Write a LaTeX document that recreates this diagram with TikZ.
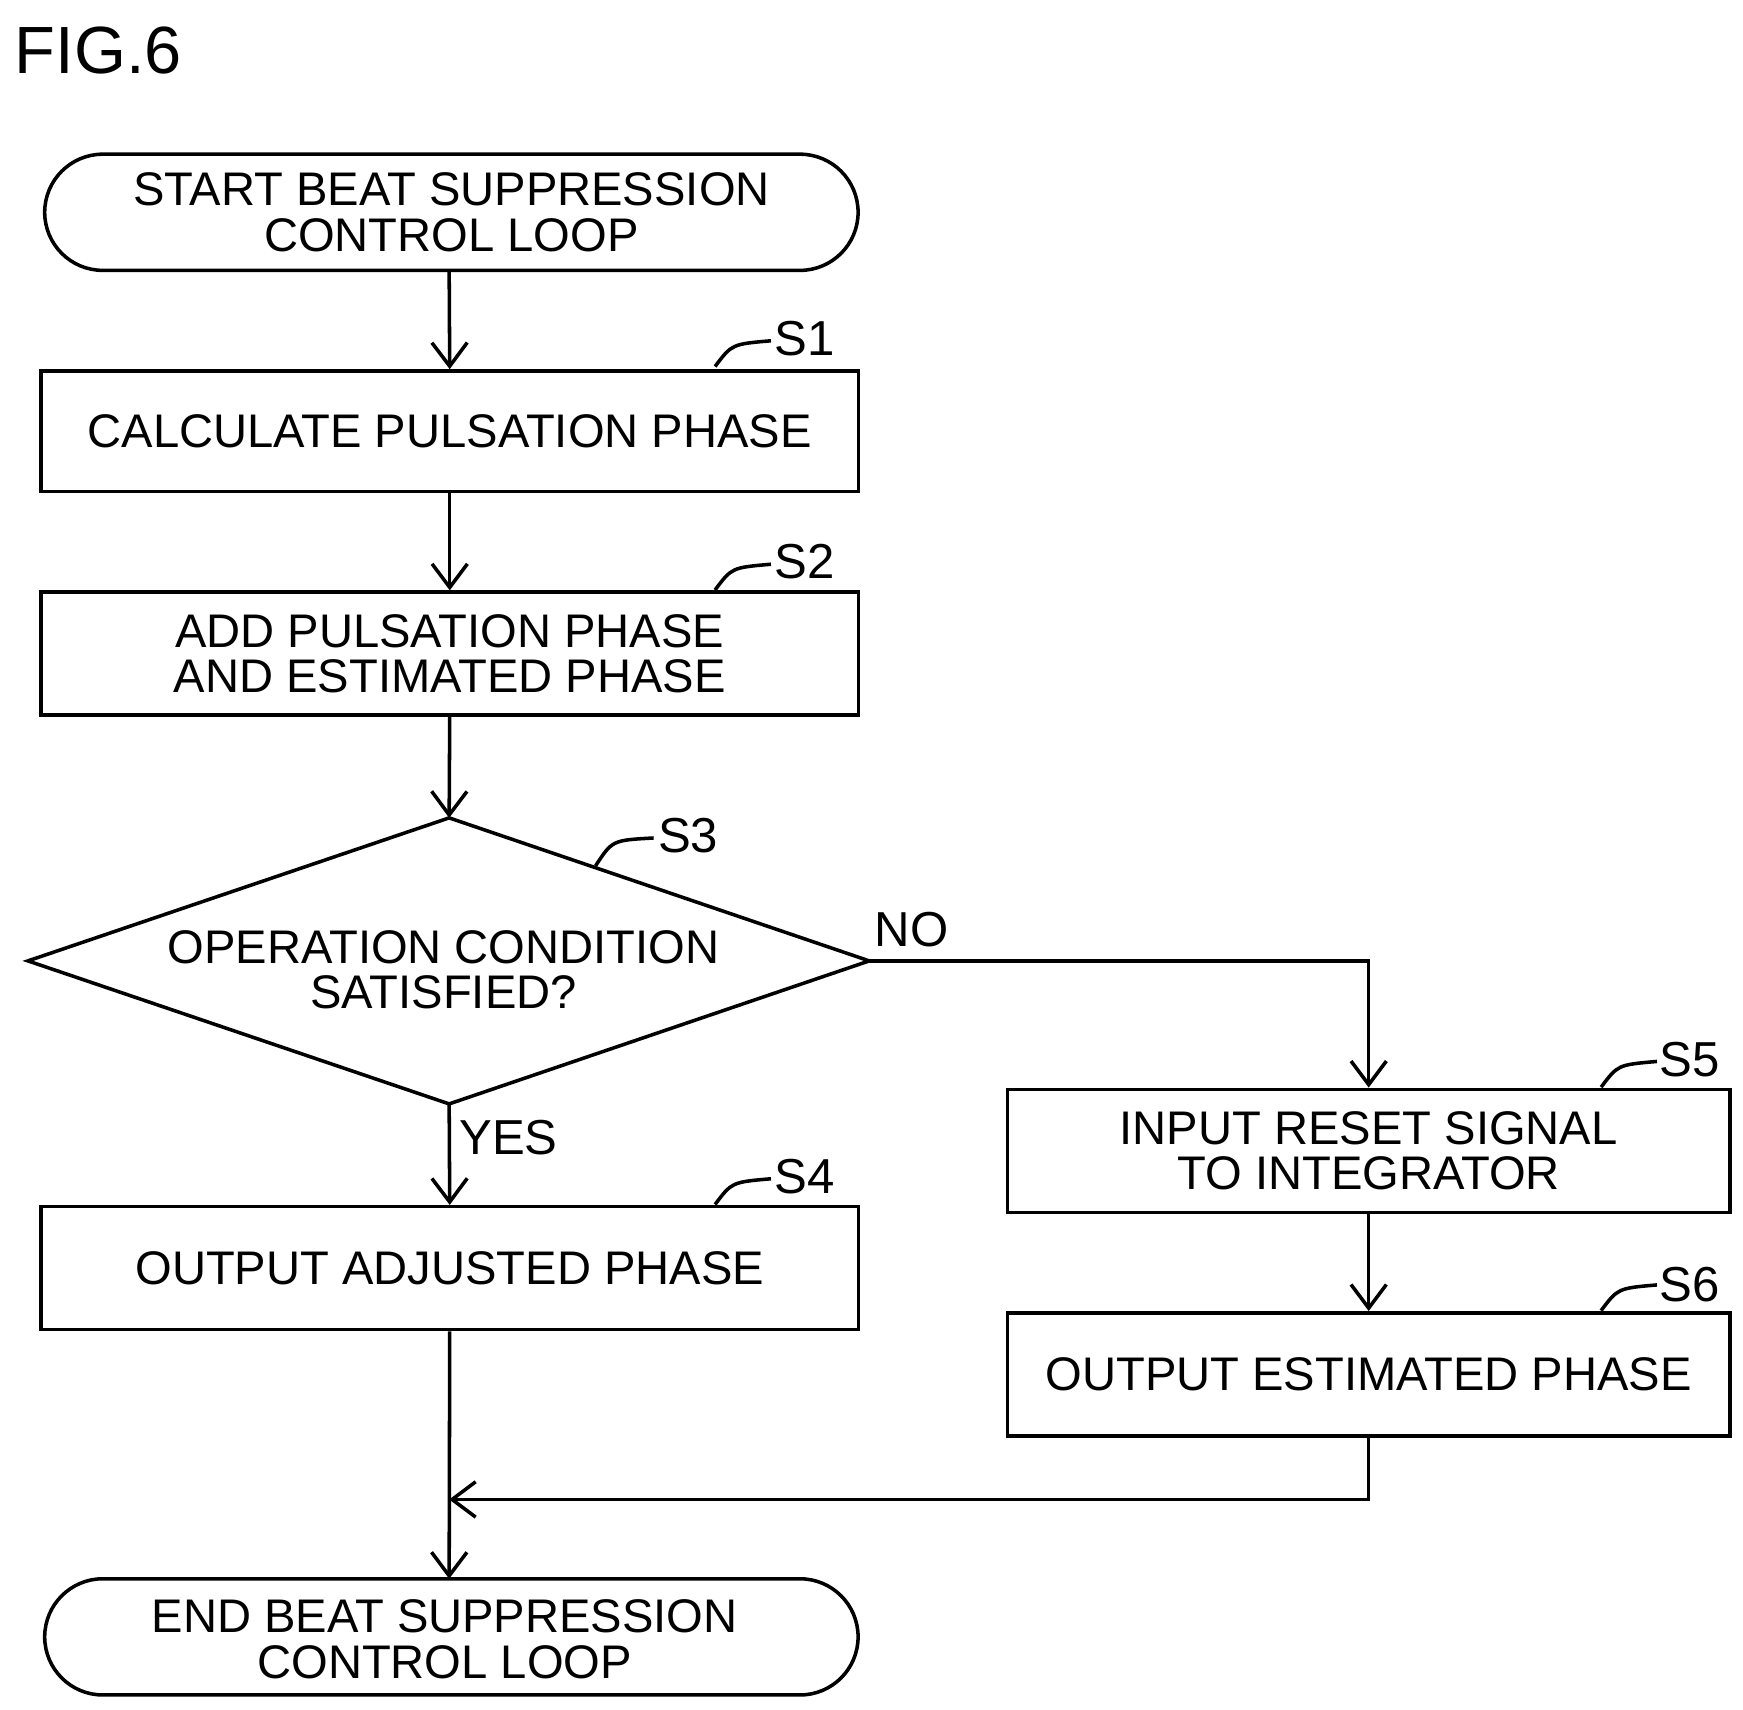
\documentclass[tikz,border=0pt]{standalone}
\usepackage{fontspec}
\setmainfont{Liberation Sans}
\usetikzlibrary{shapes.geometric,arrows.meta}
\begin{document}
\begin{tikzpicture}[x=0.01cm,y=-0.01cm,
  every node/.style={font=\fontsize{12}{11.6}\selectfont, align=center},
  ln/.style={line width=0.9pt},
  arr/.style={ln,-{Straight Barb[length=6pt,width=9pt]}},
  box/.style={draw,ln,rectangle,inner sep=0pt},
  lab/.style={font=\fontsize{12.5}{15}\selectfont}]
\useasboundingbox (0,0) rectangle (1560,1530);
\node[font=\fontsize{17}{20}\selectfont] (fig) at (88,45) {FIG.6};
\draw[ln,rounded corners=0.52cm] (40,138) rectangle (768,242);
\node (start) at (404,190) {START BEAT SUPPRESSION\\CONTROL LOOP};
\coordinate (startb) at (402,242);
\node[box,minimum width=7.31cm,minimum height=1.08cm] (s1) at (402.5,386) {CALCULATE PULSATION PHASE};
\node[box,minimum width=7.31cm,minimum height=1.1cm] (s2) at (402.5,585) {ADD PULSATION PHASE\\AND ESTIMATED PHASE};
\coordinate (dt) at (402,732); \coordinate (dr) at (778,860);
\coordinate (db) at (402,988); \coordinate (dl) at (25,860);
\draw[ln] (dt)--(dr)--(db)--(dl)--cycle;
\node (s3) at (397,868) {OPERATION CONDITION\\SATISFIED?};
\node[box,minimum width=7.31cm,minimum height=1.1cm] (s4) at (402.5,1135) {OUTPUT ADJUSTED PHASE};
\node[box,minimum width=6.46cm,minimum height=1.1cm] (s5) at (1225,1030) {INPUT RESET SIGNAL\\TO INTEGRATOR};
\node[box,minimum width=6.46cm,minimum height=1.1cm] (s6) at (1225,1230) {OUTPUT ESTIMATED PHASE};
\draw[ln,rounded corners=0.52cm] (40,1413) rectangle (768,1517);
\node (end) at (398,1467) {END BEAT SUPPRESSION\\CONTROL LOOP};
\coordinate (endt) at (402,1413);
% labels
\node[lab] (l1) at (720,303) {S1};
\node[lab] (l2) at (720,503) {S2};
\node[lab] (l3) at (616,748) {S3};
\node[lab] (l4) at (720,1053) {S4};
\node[lab] (l5) at (1512,948) {S5};
\node[lab] (l6) at (1512,1150) {S6};
\node[lab] (no) at (816,832) {NO};
\node[lab] (yes) at (455,1018) {YES};
\draw[ln] (640,328) .. controls (655,308) .. (690,305);
\draw[ln] (640,528) .. controls (655,508) .. (690,505);
\draw[ln] (533,775) .. controls (548,752) .. (585,750);
\draw[ln] (640,1078) .. controls (655,1058) .. (690,1055);
\draw[ln] (1433,973) .. controls (1448,953) .. (1483,950);
\draw[ln] (1433,1173) .. controls (1448,1153) .. (1483,1150);
% connectors
\draw[arr] (startb) -- (s1.north);
\draw[arr] (s1.south) -- (s2.north);
\draw[arr] (s2.south) -- (dt);
\draw[arr] (db) -- (s4.north);
\draw[arr] (dr) -| (s5.north);
\draw[arr] (s5.south) -- (s6.north);
\coordinate (j) at (402,1342);
\draw[arr] (s6.south) |- (j);
\draw[arr] (s4.south) -- (endt);
\end{tikzpicture}
\end{document}
